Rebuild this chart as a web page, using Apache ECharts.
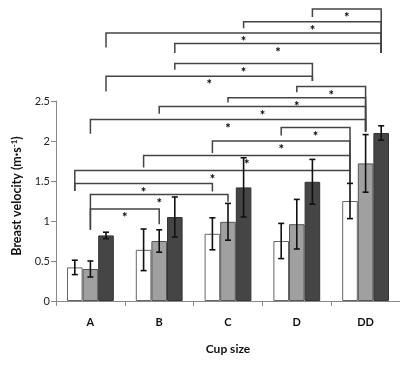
<!DOCTYPE html>
<html>
<head>
<meta charset="utf-8">
<script src="https://cdn.jsdelivr.net/npm/echarts@6/dist/echarts.min.js"></script>
<style>html,body{margin:0;padding:0;background:#fff;}#c{width:400px;height:365px;}</style>
</head>
<body>
<div id="c"></div>
<script>
const categories = ['A', 'B', 'C', 'D', 'DD'];
const whiteVals = [0.42, 0.64, 0.84, 0.75, 1.25];
const whiteErr  = [0.09, 0.26, 0.20, 0.22, 0.22];
const grayVals  = [0.40, 0.75, 0.99, 0.96, 1.72];
const grayErr   = [0.10, 0.14, 0.23, 0.31, 0.36];
const darkVals  = [0.82, 1.05, 1.42, 1.49, 2.10];
const darkErr   = [0.04, 0.25, 0.37, 0.28, 0.09];
// significance brackets: [fromCat, fromSeries, toCat, toSeries, level, leftEnd, rightEnd]
const brackets = [
  [3, 2, 4, 2, 3.65, 3.55, 3.10],
  [2, 2, 4, 2, 3.49, 3.41, 3.10],
  [0, 2, 4, 2, 3.35, 3.17, 3.10],
  [1, 2, 4, 2, 3.22, 3.10, 3.10],
  [1, 2, 3, 2, 2.97, 2.89, 2.75],
  [0, 2, 3, 2, 2.81, 2.62, 2.75],
  [3, 1, 4, 1, 2.68, 2.61, 2.12],
  [2, 1, 4, 1, 2.54, 2.48, 2.12],
  [1, 1, 4, 1, 2.43, 2.34, 2.12],
  [0, 1, 4, 1, 2.27, 2.09, 2.12],
  [3, 0, 4, 0, 2.17, 2.07, 1.47],
  [2, 0, 4, 0, 2.00, 1.85, 1.47],
  [1, 0, 4, 0, 1.82, 1.67, 1.47],
  [0, 0, 4, 0, 1.63, 1.375, 1.47],
  [0, 0, 2, 0, 1.47, 1.375, 1.37],
  [0, 1, 2, 1, 1.33, 0.89, 1.24],
  [0, 1, 1, 1, 1.15, 0.89, 0.96]
];
const starLabel = '*';

const BAR_W = 15.6;
const FONT = 'Lato, "Open Sans", sans-serif';
const chart = echarts.init(document.getElementById('c'), null, {renderer: 'canvas'});

function errSeries(vals, errs, k) {
  return {
    type: 'custom',
    z: 5,
    clip: false,
    data: vals.map((v, i) => [i, v, errs[i]]),
    renderItem: function (params, api) {
      const i = api.value(0), v = api.value(1), e = api.value(2);
      const top = api.coord([i, v + e]);
      const bot = api.coord([i, v - e]);
      const x = top[0] + (k - 1) * BAR_W;
      const cw = 3;
      const st = {stroke: '#111', lineWidth: 1.6, fill: null};
      return {type: 'group', children: [
        {type: 'line', shape: {x1: x, y1: top[1], x2: x, y2: bot[1]}, style: st},
        {type: 'line', shape: {x1: x - cw, y1: top[1], x2: x + cw, y2: top[1]}, style: st},
        {type: 'line', shape: {x1: x - cw, y1: bot[1], x2: x + cw, y2: bot[1]}, style: st}
      ]};
    }
  };
}

const option = {
  animation: false,
  grid: {left: 56, right: -4, top: 101, bottom: 64},
  xAxis: {
    type: 'category',
    data: categories,
    axisLine: {lineStyle: {color: '#888', width: 1}},
    axisTick: {show: true, length: 5, lineStyle: {color: '#888'}},
    axisLabel: {color: '#111', fontFamily: FONT, fontWeight: 'bold', fontSize: 11, margin: 16},
    name: 'Cup size',
    nameLocation: 'middle',
    nameGap: 42,
    nameTextStyle: {color: '#111', fontFamily: FONT, fontWeight: 'bold', fontSize: 12}
  },
  yAxis: {
    type: 'value',
    min: 0, max: 2.5, interval: 0.5,
    axisLine: {show: true, lineStyle: {color: '#888', width: 1}},
    axisTick: {show: true, length: 5, lineStyle: {color: '#888'}},
    splitLine: {show: false},
    axisLabel: {color: '#222', fontFamily: FONT, fontSize: 11, margin: 6},
    name: 'Breast velocity (m·s{sup|-1})',
    nameLocation: 'middle',
    nameGap: 27,
    nameTextStyle: {
      color: '#111', fontFamily: FONT, fontWeight: 'bold', fontSize: 12.5,
      padding: [0, 0, 0, 10],
      rich: {sup: {fontSize: 8, fontWeight: 'bold', fontFamily: FONT, color: '#111', verticalAlign: 'top', padding: [0, 0, 6, 0]}}
    }
  },
  series: [
    {type: 'bar', data: whiteVals, barWidth: BAR_W, barGap: '0%',
     itemStyle: {color: '#ffffff', borderColor: '#666', borderWidth: 1}},
    {type: 'bar', data: grayVals, barWidth: BAR_W, barGap: '0%',
     itemStyle: {color: '#a0a0a0', borderColor: '#555', borderWidth: 1}},
    {type: 'bar', data: darkVals, barWidth: BAR_W, barGap: '0%',
     itemStyle: {color: '#454545', borderColor: '#333', borderWidth: 1}},
    errSeries(whiteVals, whiteErr, 0),
    errSeries(grayVals, grayErr, 1),
    errSeries(darkVals, darkErr, 2),
    {
      type: 'custom',
      z: 4,
      clip: false,
      data: brackets,
      renderItem: function (params, api) {
        const b = brackets[params.dataIndex];
        const p1 = api.coord([b[0], b[4]]);
        const p2 = api.coord([b[2], b[4]]);
        const x1 = p1[0] + (b[1] - 1) * BAR_W;
        const x2 = p2[0] + (b[3] - 1) * BAR_W;
        const y = p1[1];
        const yl = api.coord([b[0], b[5]])[1];
        const yr = api.coord([b[2], b[6]])[1];
        const st = {stroke: '#444', lineWidth: 1.5, fill: null};
        return {type: 'group', children: [
          {type: 'polyline', shape: {points: [[x1, yl], [x1, y], [x2, y], [x2, yr]]}, style: st},
          {type: 'text', x: (x1 + x2) / 2, y: y + 9,
           style: {text: starLabel, fill: '#000', font: 'bold 13px ' + FONT, align: 'center', verticalAlign: 'middle'}}
        ]};
      }
    }
  ]
};
chart.setOption(option);
</script>
</body>
</html>
